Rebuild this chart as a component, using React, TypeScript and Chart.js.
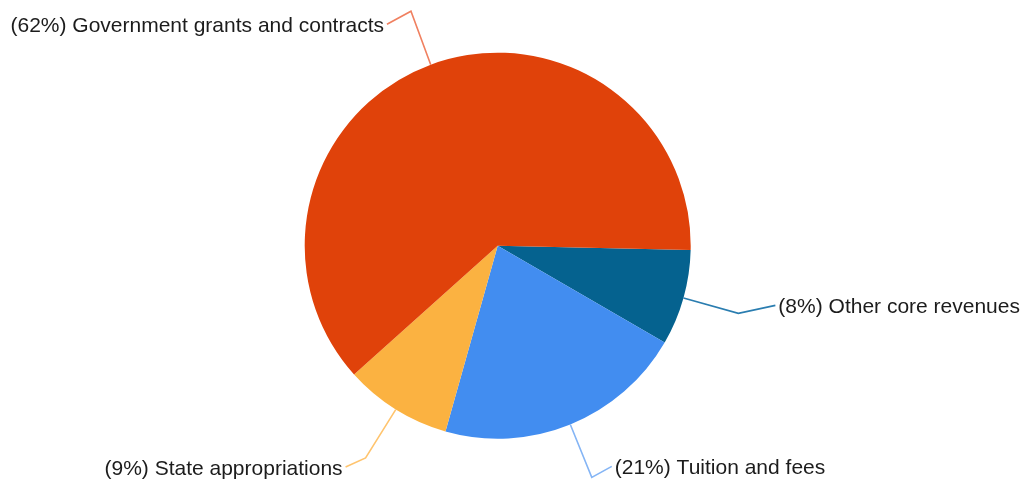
import { useEffect, useRef } from "react";
import { Chart, registerables } from "chart.js";

Chart.register(...registerables);

// Data
const categories = [
  "Other core revenues",
  "Tuition and fees",
  "State appropriations",
  "Government grants and contracts",
];
const shares = [8, 21, 9, 62];
const sliceColors = ["#05628F", "#428DF0", "#FBB241", "#E0420A"];
const leaderColors = ["#2A7DB0", "#85B5F5", "#FFC46E", "#F08060"];

// Label placement (layout constants)
const LEADER_EXT = 57;
const LABEL_NUDGE: [number, number][] = [
  [37, -8],
  [20, -11],
  [-20, 9],
  [-24, 13],
];
const TEXT_GAP = 3;

const leaderPlugin = {
  id: "leaderLabels",
  afterDatasetsDraw(chart: any) {
    const ctx = chart.ctx as CanvasRenderingContext2D;
    const meta = chart.getDatasetMeta(0);
    const values = chart.data.datasets[0].data as number[];
    const total = values.reduce((a, b) => a + b, 0);
    ctx.save();
    meta.data.forEach((arc: any, i: number) => {
      const p = arc.getProps(["x", "y", "startAngle", "endAngle", "outerRadius"], true);
      const mid = (p.startAngle + p.endAngle) / 2;
      const c = Math.cos(mid);
      const s = Math.sin(mid);
      const x1 = p.x + c * p.outerRadius;
      const y1 = p.y + s * p.outerRadius;
      const x2 = p.x + c * (p.outerRadius + LEADER_EXT);
      const y2 = p.y + s * (p.outerRadius + LEADER_EXT);
      const [dx, dy] = LABEL_NUDGE[i];
      const x3 = x2 + dx;
      const y3 = y2 + dy;
      ctx.beginPath();
      ctx.moveTo(x1, y1);
      ctx.lineTo(x2, y2);
      ctx.lineTo(x3, y3);
      ctx.strokeStyle = leaderColors[i];
      ctx.lineWidth = 1.6;
      ctx.lineJoin = "miter";
      ctx.stroke();

      const pct = Math.round((values[i] / total) * 100);
      const text = `(${pct}%) ${chart.data.labels[i]}`;
      ctx.font = '21px "Liberation Sans", Arial, sans-serif';
      ctx.fillStyle = "#1c1c1c";
      ctx.textBaseline = "alphabetic";
      const right = dx > 0;
      ctx.textAlign = right ? "left" : "right";
      ctx.fillText(text, x3 + (right ? TEXT_GAP : -TEXT_GAP), y3 + 8);
    });
    ctx.restore();
  },
};

export default function App() {
  const ref = useRef<HTMLCanvasElement | null>(null);

  useEffect(() => {
    if (!ref.current) return;
    const chart = new Chart(ref.current, {
      type: "pie",
      data: {
        labels: categories,
        datasets: [
          {
            data: shares,
            backgroundColor: sliceColors,
            borderWidth: 0,
            hoverOffset: 0,
          },
        ],
      },
      options: {
        animation: false,
        responsive: true,
        maintainAspectRatio: false,
        rotation: 91.3,
        layout: {
          padding: { top: 52.7, bottom: 42.3, left: 304.7, right: 331.3 },
        },
        plugins: {
          legend: { display: false },
          tooltip: { enabled: false },
        },
        events: [],
      },
      plugins: [leaderPlugin],
    });
    return () => chart.destroy();
  }, []);

  return (
    <div
      style={{
        position: "fixed",
        left: 0,
        top: 0,
        width: 1022,
        height: 481,
        background: "#ffffff",
      }}
    >
      <canvas ref={ref} />
    </div>
  );
}
